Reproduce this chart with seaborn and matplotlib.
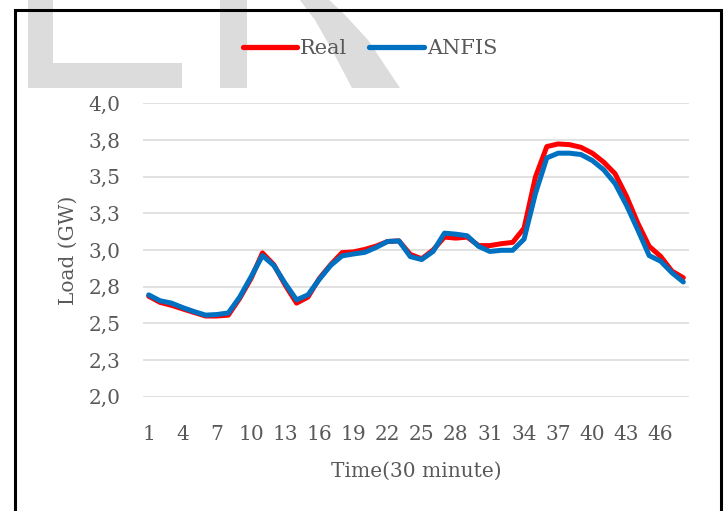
import numpy as np
import pandas as pd
import matplotlib
matplotlib.use("Agg")
import matplotlib.pyplot as plt
from matplotlib.patches import Rectangle, Polygon
from matplotlib.lines import Line2D
import seaborn as sns

# ---- data ----
time_idx = list(range(1, 49))
real = [2.685, 2.643, 2.623, 2.598, 2.574, 2.550, 2.550, 2.556, 2.670, 2.806,
        2.980, 2.900, 2.761, 2.638, 2.679, 2.806, 2.900, 2.982, 2.987, 3.004,
        3.027, 3.058, 3.062, 2.970, 2.940, 3.000, 3.088, 3.081, 3.088, 3.030,
        3.030, 3.043, 3.052, 3.149, 3.498, 3.705, 3.723, 3.718, 3.700, 3.660,
        3.599, 3.520, 3.367, 3.183, 3.025, 2.957, 2.856, 2.811]
anfis = [2.694, 2.654, 2.638, 2.607, 2.580, 2.556, 2.560, 2.571, 2.679, 2.817,
         2.962, 2.895, 2.772, 2.660, 2.694, 2.800, 2.895, 2.960, 2.973, 2.984,
         3.018, 3.058, 3.062, 2.955, 2.935, 2.990, 3.115, 3.108, 3.097, 3.025,
         2.990, 2.998, 2.998, 3.074, 3.385, 3.628, 3.660, 3.660, 3.651, 3.610,
         3.547, 3.453, 3.306, 3.137, 2.962, 2.924, 2.845, 2.782]
series_names = ["Real", "ANFIS"]
x_ticks = list(range(1, 47, 3))
y_ticks = [2.0, 2.25, 2.5, 2.75, 3.0, 3.25, 3.5, 3.75, 4.0]
y_tick_labels = ["2,0", "2,3", "2,5", "2,8", "3,0", "3,3", "3,5", "3,8", "4,0"]
x_title = "Time(30 minute)"
y_title = "Load (GW)"

df = pd.DataFrame({
    "t": time_idx * 2,
    "load": real + anfis,
    "series": [series_names[0]] * len(real) + [series_names[1]] * len(anfis),
})

sns.set_style("white")
plt.rcParams["font.family"] = ["DejaVu Serif"]
TXT = "#595959"
RED = "#FF0000"
BLUE = "#0070C0"

W, H = 726, 511
fig = plt.figure(figsize=(W / 100, H / 100), dpi=100)

def fx(x):
    return x / W

def fy(y):
    return 1 - y / H

# watermark (light grey letter fragments)
wm = "#dcdcdc"
for poly in [
    [(28, -5), (53, -5), (53, 88), (28, 88)],
    [(28, 63), (182, 63), (182, 88), (28, 88)],
    [(220, -5), (247, -5), (247, 88), (220, 88)],
    [(296, -5), (324, -5), (345, 15), (368, 40), (400, 88), (352, 88),
     (332, 50), (315, 20)],
]:
    fig.add_artist(Polygon([(fx(a), fy(b)) for a, b in poly], closed=True,
                           transform=fig.transFigure, facecolor=wm,
                           edgecolor="none", zorder=0))

ax = fig.add_axes([fx(143), fy(396.7), fx(689) - fx(143), fy(103.3) - fy(396.7)])
ax.set_facecolor("none")

sns.lineplot(data=df, x="t", y="load", hue="series", hue_order=series_names,
             palette={"Real": RED, "ANFIS": BLUE},
             linewidth=3.6, ax=ax, legend=False)

ax.set_xlim(0.5, 48.5)
ax.set_ylim(2.0, 4.0)
ax.set_yticks(y_ticks)
ax.set_yticklabels(y_tick_labels)
ax.set_xticks(x_ticks)
ax.set_xticklabels([str(v) for v in x_ticks])
ax.yaxis.grid(True, color="#d9d9d9", linewidth=1.1)
ax.xaxis.grid(False)
ax.set_axisbelow(True)
for s in ax.spines.values():
    s.set_visible(False)
ax.tick_params(axis="both", length=0, labelsize=14.5, colors=TXT)
ax.tick_params(axis="y", pad=16)
ax.tick_params(axis="x", pad=20.5)
ax.set_xlabel(x_title, fontsize=14.5, color=TXT, va="center")
ax.set_ylabel(y_title, fontsize=14.5, color=TXT, va="center")
ax.xaxis.set_label_coords((416 - 143) / 546, (396.7 - 471) / 293.4)
ax.yaxis.set_label_coords((68 - 143) / 546, 0.5)

handles = [Line2D([], [], color=RED, lw=3.8, solid_capstyle="round"),
           Line2D([], [], color=BLUE, lw=3.8, solid_capstyle="round")]
leg = fig.legend(handles, series_names, loc="center left", ncol=2,
                 bbox_to_anchor=(fx(243), fy(49)), frameon=False,
                 borderaxespad=0, borderpad=0,
                 fontsize=15, handlelength=2.6, handletextpad=0.15,
                 columnspacing=1.05, labelcolor=TXT)

# outer frame (bottom cut off)
fig.add_artist(Rectangle((fx(15), fy(530)), fx(721) - fx(15), fy(10) - fy(530),
                         transform=fig.transFigure, fill=False,
                         edgecolor="black", linewidth=2.2, zorder=5))

fig.savefig("out.png", dpi=100)
